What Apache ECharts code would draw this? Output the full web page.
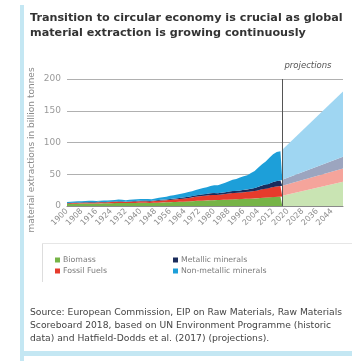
<!DOCTYPE html>
<html>
<head>
<meta charset="utf-8">
<script src="https://cdn.jsdelivr.net/npm/echarts@6/dist/echarts.min.js"></script>
<style>
  html, body { margin: 0; padding: 0; background: #ffffff; }
  #chart { width: 352px; height: 361px; }
</style>
</head>
<body>
<div id="chart"></div>
<script>
// Global material extraction by material group, billion tonnes
const FIRST_YEAR = 1900;
const LAST_YEAR = 2050;
const years = [];
for (let y = FIRST_YEAR; y <= LAST_YEAR; y++) years.push(String(y));

// Historic series, one value per year 1900-2017
const biomassHist = [
  3.5,3.5,3.6,3.6,3.7,3.7,3.8,3.8,3.9,3.9,
  4.0,4.0,4.1,4.1,4.1,4.0,4.0,4.1,4.1,4.2,
  4.3,4.3,4.4,4.4,4.5,4.5,4.6,4.6,4.7,4.7,
  4.7,4.7,4.6,4.7,4.8,4.8,4.9,4.9,5.0,5.0,
  5.0,5.0,5.0,5.0,5.0,4.9,5.0,5.1,5.2,5.3,
  5.5,5.6,5.7,5.8,5.9,6.0,6.1,6.2,6.3,6.4,
  6.5,6.6,6.7,6.8,7.0,7.1,7.3,7.4,7.6,7.8,
  8.0,8.1,8.2,8.4,8.5,8.6,8.7,8.9,9.0,9.1,
  9.2,9.3,9.4,9.5,9.7,9.8,9.9,10.0,10.1,10.3,
  10.5,10.6,10.7,10.8,10.9,11.0,11.2,11.3,11.4,11.6,
  11.8,11.9,12.0,12.2,12.4,12.6,12.8,13.0,13.2,13.3,
  13.6,13.8,14.0,14.2,14.4,14.6,14.8,15.0
];
const fossilHist = [
  1.0,1.0,1.1,1.1,1.2,1.2,1.3,1.3,1.4,1.4,
  1.5,1.5,1.6,1.6,1.5,1.5,1.6,1.7,1.7,1.6,
  1.7,1.6,1.7,1.8,1.8,1.9,1.9,2.0,2.0,2.1,
  2.0,1.9,1.8,1.9,2.0,2.1,2.2,2.3,2.2,2.3,
  2.4,2.5,2.5,2.6,2.6,2.3,2.4,2.6,2.7,2.7,
  2.8,3.0,3.1,3.2,3.3,3.5,3.7,3.8,3.9,4.1,
  4.3,4.4,4.6,4.8,5.0,5.2,5.4,5.6,5.9,6.2,
  6.5,6.7,7.0,7.4,7.4,7.4,7.8,8.0,8.2,8.4,
  8.3,8.2,8.1,8.2,8.5,8.7,8.9,9.2,9.5,9.7,
  9.8,9.8,9.8,9.9,10.0,10.2,10.5,10.7,10.7,10.9,
  11.2,11.4,11.6,12.0,12.6,13.1,13.5,13.9,14.2,14.1,
  14.8,15.3,15.8,16.1,16.4,16.5,16.6,16.9
];
const metallicHist = [
  0.4,0.4,0.4,0.4,0.5,0.5,0.5,0.5,0.5,0.5,
  0.6,0.6,0.6,0.6,0.6,0.5,0.6,0.7,0.7,0.6,
  0.6,0.5,0.6,0.6,0.7,0.7,0.7,0.7,0.8,0.8,
  0.7,0.6,0.5,0.5,0.6,0.6,0.7,0.8,0.8,0.8,
  0.9,0.9,1.0,1.0,1.0,0.8,0.8,0.9,0.9,0.9,
  1.0,1.1,1.1,1.1,1.2,1.3,1.4,1.4,1.4,1.5,
  1.6,1.6,1.7,1.7,1.8,1.9,2.0,2.0,2.1,2.2,
  2.3,2.3,2.4,2.5,2.6,2.5,2.6,2.6,2.7,2.8,
  2.8,2.7,2.7,2.7,2.8,2.9,2.9,3.0,3.1,3.3,
  3.4,3.4,3.4,3.4,3.5,3.6,3.7,3.9,3.9,4.1,
  4.3,4.4,4.6,4.9,5.3,5.7,6.1,6.5,6.7,6.6,
  7.2,7.6,7.9,8.2,8.4,8.5,8.7,9.0
];
const nonMetallicHist = [
  1.4,1.4,1.5,1.5,1.6,1.6,1.7,1.7,1.8,1.8,
  1.9,1.9,2.0,2.0,1.9,1.7,1.7,1.7,1.8,1.8,
  1.9,1.9,2.0,2.1,2.2,2.3,2.4,2.5,2.6,2.6,
  2.5,2.4,2.2,2.2,2.3,2.4,2.6,2.7,2.7,2.8,
  2.8,2.8,2.7,2.6,2.5,2.4,2.6,2.8,3.0,3.2,
  3.5,3.7,3.9,4.1,4.3,4.6,4.8,5.0,5.2,5.4,
  5.7,5.9,6.1,6.4,6.7,7.0,7.3,7.5,7.8,8.1,
  8.5,8.9,9.3,9.9,10.0,10.1,10.6,11.1,11.6,12.1,
  12.3,12.4,12.5,12.9,13.5,14.1,14.8,15.5,16.3,17.0,
  17.6,17.9,18.6,19.4,20.4,20.8,21.4,22.3,22.5,23.4,
  24.5,25.1,26.8,28.3,30.2,31.4,33.5,35.2,36.0,37.8,
  40.5,42.0,43.6,44.5,45.8,46.3,46.2,47.0
];

// Projections: start and end years, drawn as straight runs
const projYears = [2017, 2050];
const biomassProj = [16, 38];
const fossilProj = [16, 21];
const metallicProj = [9.5, 18.5];
const nonMetallicProj = [47, 103];

const historicEnd = '2017';
const yTicks = { min: 0, max: 200, step: 50 };

function histData(values) {
  return years.map((y, i) => (i < values.length ? values[i] : '-'));
}
// value first so the stack is built on the amount, year second
function projData(values) {
  return projYears.map((y, i) => [values[i], y]);
}

const groups = [
  { name: 'Biomass', hist: biomassHist, proj: biomassProj, dark: '#76b447', light: '#c9e4b3' },
  { name: 'Fossil Fuels', hist: fossilHist, proj: fossilProj, dark: '#e63b2c', light: '#f5a49b' },
  { name: 'Metallic minerals', hist: metallicHist, proj: metallicProj, dark: '#1b2c5c', light: '#9ca5bf' },
  { name: 'Non-metallic minerals', hist: nonMetallicHist, proj: nonMetallicProj, dark: '#1d9fd9', light: '#9fd6f2' }
];

const series = [];
groups.forEach(g => {
  series.push({
    name: g.name, type: 'line', stack: 'historic', data: histData(g.hist),
    xAxisIndex: 0, showSymbol: false, symbol: 'none', lineStyle: { width: 0 },
    areaStyle: { color: g.dark, opacity: 1 }, itemStyle: { color: g.dark },
    emphasis: { disabled: true }, animation: false
  });
});
groups.forEach(g => {
  series.push({
    name: g.name + ' (projection)', type: 'line', stack: 'projection', data: projData(g.proj),
    encode: { x: 1, y: 0 },
    xAxisIndex: 1, showSymbol: false, symbol: 'none', lineStyle: { width: 0 },
    areaStyle: { color: g.light, opacity: 1 }, itemStyle: { color: g.light },
    emphasis: { disabled: true }, animation: false
  });
});
// divider between historic data and projections
series[3].markLine = {
  silent: true, symbol: 'none', animation: false,
  label: { show: false },
  lineStyle: { color: '#555555', width: 1, type: 'solid' },
  data: [{ xAxis: historicEnd }]
};

const chart = echarts.init(document.getElementById('chart'), null, { renderer: 'canvas' });
const FONT = 'DejaVu Sans';
chart.setOption({
  animation: false,
  backgroundColor: '#ffffff',
  grid: { left: 67, right: 9, top: 79, bottom: 155, containLabel: false },
  xAxis: [
    {
      type: 'category', data: years, boundaryGap: false,
      axisLine: { lineStyle: { color: '#8a8a8a', width: 1 } },
      axisTick: { show: false },
      axisLabel: { interval: 7, rotate: 45, fontSize: 8, color: '#8c8c8c', margin: 4, fontFamily: FONT },
      splitLine: { show: false }
    },
    {
      type: 'value', min: FIRST_YEAR, max: LAST_YEAR, show: false,
      splitLine: { show: false }
    }
  ],
  yAxis: {
    type: 'value', min: yTicks.min, max: yTicks.max, interval: yTicks.step,
    axisLine: { show: false }, axisTick: { show: false },
    axisLabel: { fontSize: 9, color: '#9a9a9a', margin: 6, fontFamily: FONT },
    splitLine: { lineStyle: { color: '#b0b0b0', width: 1 } }
  },
  legend: [
    {
      data: ['Biomass', 'Fossil Fuels'], orient: 'vertical', left: 50, top: 251,
      icon: 'rect', itemWidth: 5, itemHeight: 5, itemGap: 3, selectedMode: false,
      textStyle: { fontSize: 7.8, color: '#7a7a7a', fontFamily: FONT, padding: [0, 0, 0, -2] }
    },
    {
      data: ['Metallic minerals', 'Non-metallic minerals'], orient: 'vertical', left: 168, top: 251,
      icon: 'rect', itemWidth: 5, itemHeight: 5, itemGap: 3, selectedMode: false,
      textStyle: { fontSize: 7.8, color: '#7a7a7a', fontFamily: FONT, padding: [0, 0, 0, -2] }
    }
  ],
  graphic: [
    // panel frame
    { type: 'rect', shape: { x: 20, y: 5, width: 4, height: 356 }, style: { fill: '#c4e7f3' }, silent: true },
    { type: 'rect', shape: { x: 20, y: 351, width: 332, height: 5 }, style: { fill: '#c4e7f3' }, silent: true },
    // legend box edges
    { type: 'line', shape: { x1: 42.5, y1: 243, x2: 42.5, y2: 282 }, style: { stroke: '#dddddd', lineWidth: 1 }, silent: true },
    { type: 'line', shape: { x1: 42, y1: 243.5, x2: 352, y2: 243.5 }, style: { stroke: '#e6e6e6', lineWidth: 1 }, silent: true },
    // title
    { type: 'text', left: 30, top: 11, silent: true,
      style: { text: 'Transition to circular economy is crucial as global\nmaterial extraction is growing continuously',
               font: 'bold 11.2px "DejaVu Sans"', fill: '#333333', lineHeight: 15 } },
    // axis name
    { type: 'text', x: 32, y: 150, rotation: Math.PI / 2, silent: true,
      style: { text: 'material extractions in billion tonnes', font: '9px "DejaVu Sans"', fill: '#8a8a8a',
               align: 'center', verticalAlign: 'middle' } },
    // projection note
    { type: 'text', x: 308, y: 66, silent: true,
      style: { text: 'projections', font: 'italic 8.5px "DejaVu Sans"', fill: '#555555', align: 'center', verticalAlign: 'middle' } },
    // source
    { type: 'text', left: 30, top: 306, silent: true,
      style: { text: 'Source: European Commission, EIP on Raw Materials, Raw Materials\nScoreboard 2018, based on UN Environment Programme (historic\ndata) and Hatfield-Dodds et al. (2017) (projections).',
               font: '9.2px "DejaVu Sans"', fill: '#444444', lineHeight: 13 } }
  ],
  series: series
});
</script>
</body>
</html>
